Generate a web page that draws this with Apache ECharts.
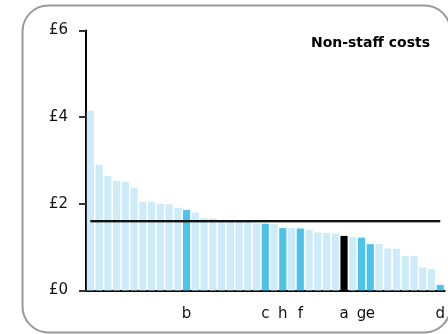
<!DOCTYPE html>
<html>
<head>
<meta charset="utf-8">
<script src="https://cdn.jsdelivr.net/npm/echarts@6/dist/echarts.min.js"></script>
<style>
html,body{margin:0;padding:0;background:#fff;}
#c{width:448px;height:334px;}
</style>
</head>
<body>
<div id="c"></div>
<script>
// Category labels (only highlighted organisations carry a letter)
const labels = ['', '', '', '', '', '', '', '', '', '', '', 'b', '', '', '', '', '', '', '', '', 'c', '', 'h', '', 'f', '', '', '', '', 'a', '', 'g', 'e', '', '', '', '', '', '', '', 'd'];
// Non-staff costs (£)
const values = [4.15, 2.90, 2.64, 2.53, 2.51, 2.37, 2.05, 2.05, 2.00, 1.99, 1.91, 1.86, 1.80, 1.67, 1.66, 1.63, 1.61, 1.59, 1.58, 1.55, 1.54, 1.53, 1.44, 1.44, 1.43, 1.40, 1.34, 1.33, 1.31, 1.26, 1.24, 1.22, 1.07, 1.07, 0.97, 0.96, 0.80, 0.80, 0.53, 0.49, 0.13];
// Kind of each bar: 0 = other, 1 = comparator, 2 = selected
const kinds = [0,0,0,0,0,0,0,0,0,0,0,1,0,0,0,0,0,0,0,0,1,0,1,0,1,0,0,0,0,2,0,1,1,0,0,0,0,0,0,0,1];
const average = [1.61];
const yTicks = ['£0', '£2', '£4', '£6'];
const title = 'Non-staff costs';

const colors = ['#cdebf8', '#4dc3eb', '#000000'];

const chart = echarts.init(document.getElementById('c'), null, {renderer: 'canvas'});
chart.setOption({
  animation: false,
  backgroundColor: '#fff',
  title: {
    text: title,
    right: 13,
    top: 31,
    textStyle: {fontFamily: 'DejaVu Sans', fontWeight: 'bold', fontSize: 14, color: '#000'}
  },
  graphic: [{
    type: 'rect',
    shape: {x: 22.5, y: 5.5, width: 428, height: 327, r: 26},
    style: {fill: 'none', stroke: '#999', lineWidth: 2},
    z: -1,
    silent: true
  }],
  grid: {left: 86, right: 2.5, top: 30.5, bottom: 43.5, containLabel: false},
  xAxis: {
    type: 'category',
    data: labels,
    axisLine: {show: true, lineStyle: {color: '#000', width: 2}},
    axisTick: {show: false},
    axisLabel: {interval: 0, margin: 16, fontFamily: 'DejaVu Sans', fontSize: 15, color: '#111'},
    splitLine: {show: false}
  },
  yAxis: [{
    type: 'value',
    min: 0, max: 6, interval: 2,
    axisLine: {show: true, lineStyle: {color: '#000', width: 2}},
    axisTick: {show: true, length: 7, lineStyle: {color: '#333', width: 2}},
    axisLabel: {
      margin: 18, fontFamily: 'DejaVu Sans', fontSize: 15, color: '#111',
      formatter: v => yTicks[Math.round(v / 2)]
    },
    splitLine: {show: false}
  }],
  series: [{
    type: 'bar',
    barCategoryGap: '18%',
    data: values.map((v, i) => ({value: v, itemStyle: {color: colors[kinds[i]]}})),
    markLine: {
      silent: true,
      symbol: 'none',
      label: {show: false},
      lineStyle: {color: '#111', width: 2, type: 'solid', shadowColor: 'rgba(0,0,0,0.35)', shadowOffsetY: 1, shadowBlur: 0},
      data: [[{coord: [0, average[0]]}, {coord: [labels.length - 1, average[0]]}]]
    }
  }]
});
</script>
</body>
</html>
